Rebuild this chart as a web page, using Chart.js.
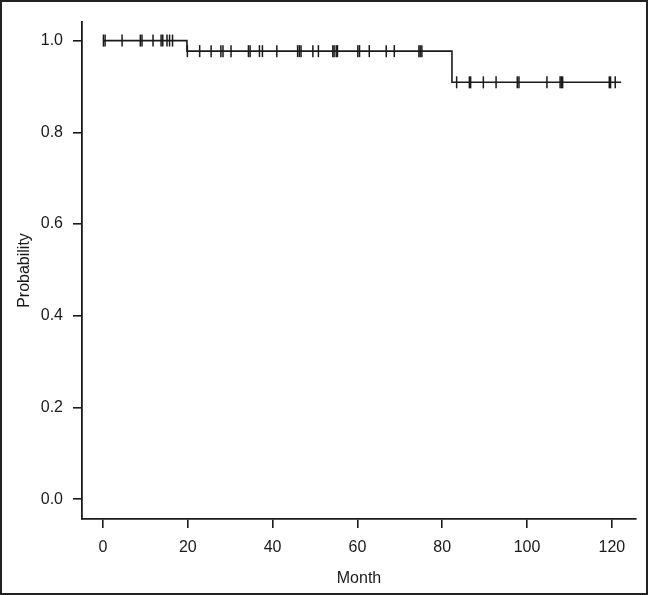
<!DOCTYPE html>
<html>
<head>
<meta charset="utf-8">
<script src="https://cdn.jsdelivr.net/npm/chart.js@4/dist/chart.umd.min.js"></script>
<style>
  html, body { margin: 0; padding: 0; background: #fff; }
  #wrap { width: 648px; height: 595px; position: relative; }
</style>
</head>
<body>
<div id="wrap"><canvas id="km"></canvas></div>
<script>
// survival step function (time in months, probability)
var stepTimes = [0, 19.8, 82.3, 122.2];
var stepProb = [1.0, 0.977, 0.909, 0.909];
// censored observations (months)
var censorTimes = [0.1, 0.5, 4.5, 8.8, 9.2, 11.8, 13.7, 14.1, 15.1, 15.7, 16.4,
  19.9, 22.8, 25.5, 27.8, 28.3, 30.2, 34.3, 34.7, 36.9, 37.6, 41.0,
  45.9, 46.3, 46.7, 49.5, 50.8, 54.2, 54.5, 55.0, 55.3, 60.1, 60.5, 62.8,
  66.8, 68.7, 74.5, 74.8, 75.2,
  83.4, 86.4, 86.7, 89.7, 92.7, 97.7, 98.1, 104.7, 107.8, 108.1, 108.4,
  119.4, 119.7, 120.8];
var xTicks = [0, 20, 40, 60, 80, 100, 120];
var yTicks = [0, 0.2, 0.4, 0.6, 0.8, 1.0];

function survivalAt(t) {
  var p = stepProb[0];
  for (var i = 0; i < stepTimes.length; i++) {
    if (stepTimes[i] <= t) p = stepProb[i];
  }
  return p;
}

var ink = '#1a1a1a';
var font = { family: '"Liberation Sans", Arial, sans-serif', size: 16 };

var framePlugin = {
  id: 'frame',
  afterDraw: function (chart) {
    var ctx = chart.ctx;
    ctx.save();
    ctx.strokeStyle = '#222';
    ctx.lineWidth = 2;
    ctx.strokeRect(1, 1, chart.width - 2, chart.height - 2);
    ctx.restore();
  }
};

var ctx = document.getElementById('km');
var kmChart = new Chart(ctx, {
  type: 'scatter',
  data: {
    datasets: [{
      data: stepTimes.map(function (t, i) { return { x: t, y: stepProb[i] }; }),
      showLine: true,
      stepped: 'before',
      borderColor: ink,
      borderWidth: 1.6,
      pointRadius: 0,
      fill: false
    }, {
      data: censorTimes.map(function (t) { return { x: t, y: survivalAt(t) }; }),
      showLine: false,
      pointStyle: 'line',
      rotation: 90,
      pointRadius: 6,
      borderColor: ink,
      borderWidth: 1.5
    }]
  },
  options: {
    responsive: true,
    maintainAspectRatio: false,
    animation: false,
    layout: { padding: { top: 22, right: 12, left: 0, bottom: 0 } },
    plugins: { legend: { display: false }, tooltip: { enabled: false } },
    scales: {
      x: {
        type: 'linear',
        min: -4.95,
        max: 125.7,
        afterBuildTicks: function (axis) { axis.ticks = xTicks.map(function (v) { return { value: v }; }); },
        afterFit: function (axis) { axis.height = 76; },
        grid: { display: true, drawOnChartArea: false, drawTicks: true, tickLength: 9, color: ink, lineWidth: 1.6 },
        border: { display: true, color: ink, width: 1.8 },
        ticks: { color: ink, font: font, padding: 10, maxRotation: 0 },
        title: { display: true, text: 'Month', color: ink, font: font, padding: { top: 0, bottom: 7 } }
      },
      y: {
        type: 'linear',
        min: -0.043,
        max: 1.0405,
        afterBuildTicks: function (axis) { axis.ticks = yTicks.map(function (v) { return { value: v }; }); },
        afterFit: function (axis) { axis.width = 82; },
        grid: { display: true, drawOnChartArea: false, drawTicks: true, tickLength: 9, color: ink, lineWidth: 1.6 },
        border: { display: true, color: ink, width: 1.8 },
        ticks: { color: ink, font: font, padding: 10, callback: function (v) { return Number(v).toFixed(1); } },
        title: { display: true, text: 'Probability', color: ink, font: font, padding: { top: 15, bottom: 15 } }
      }
    }
  },
  plugins: [framePlugin]
});
</script>
</body>
</html>
